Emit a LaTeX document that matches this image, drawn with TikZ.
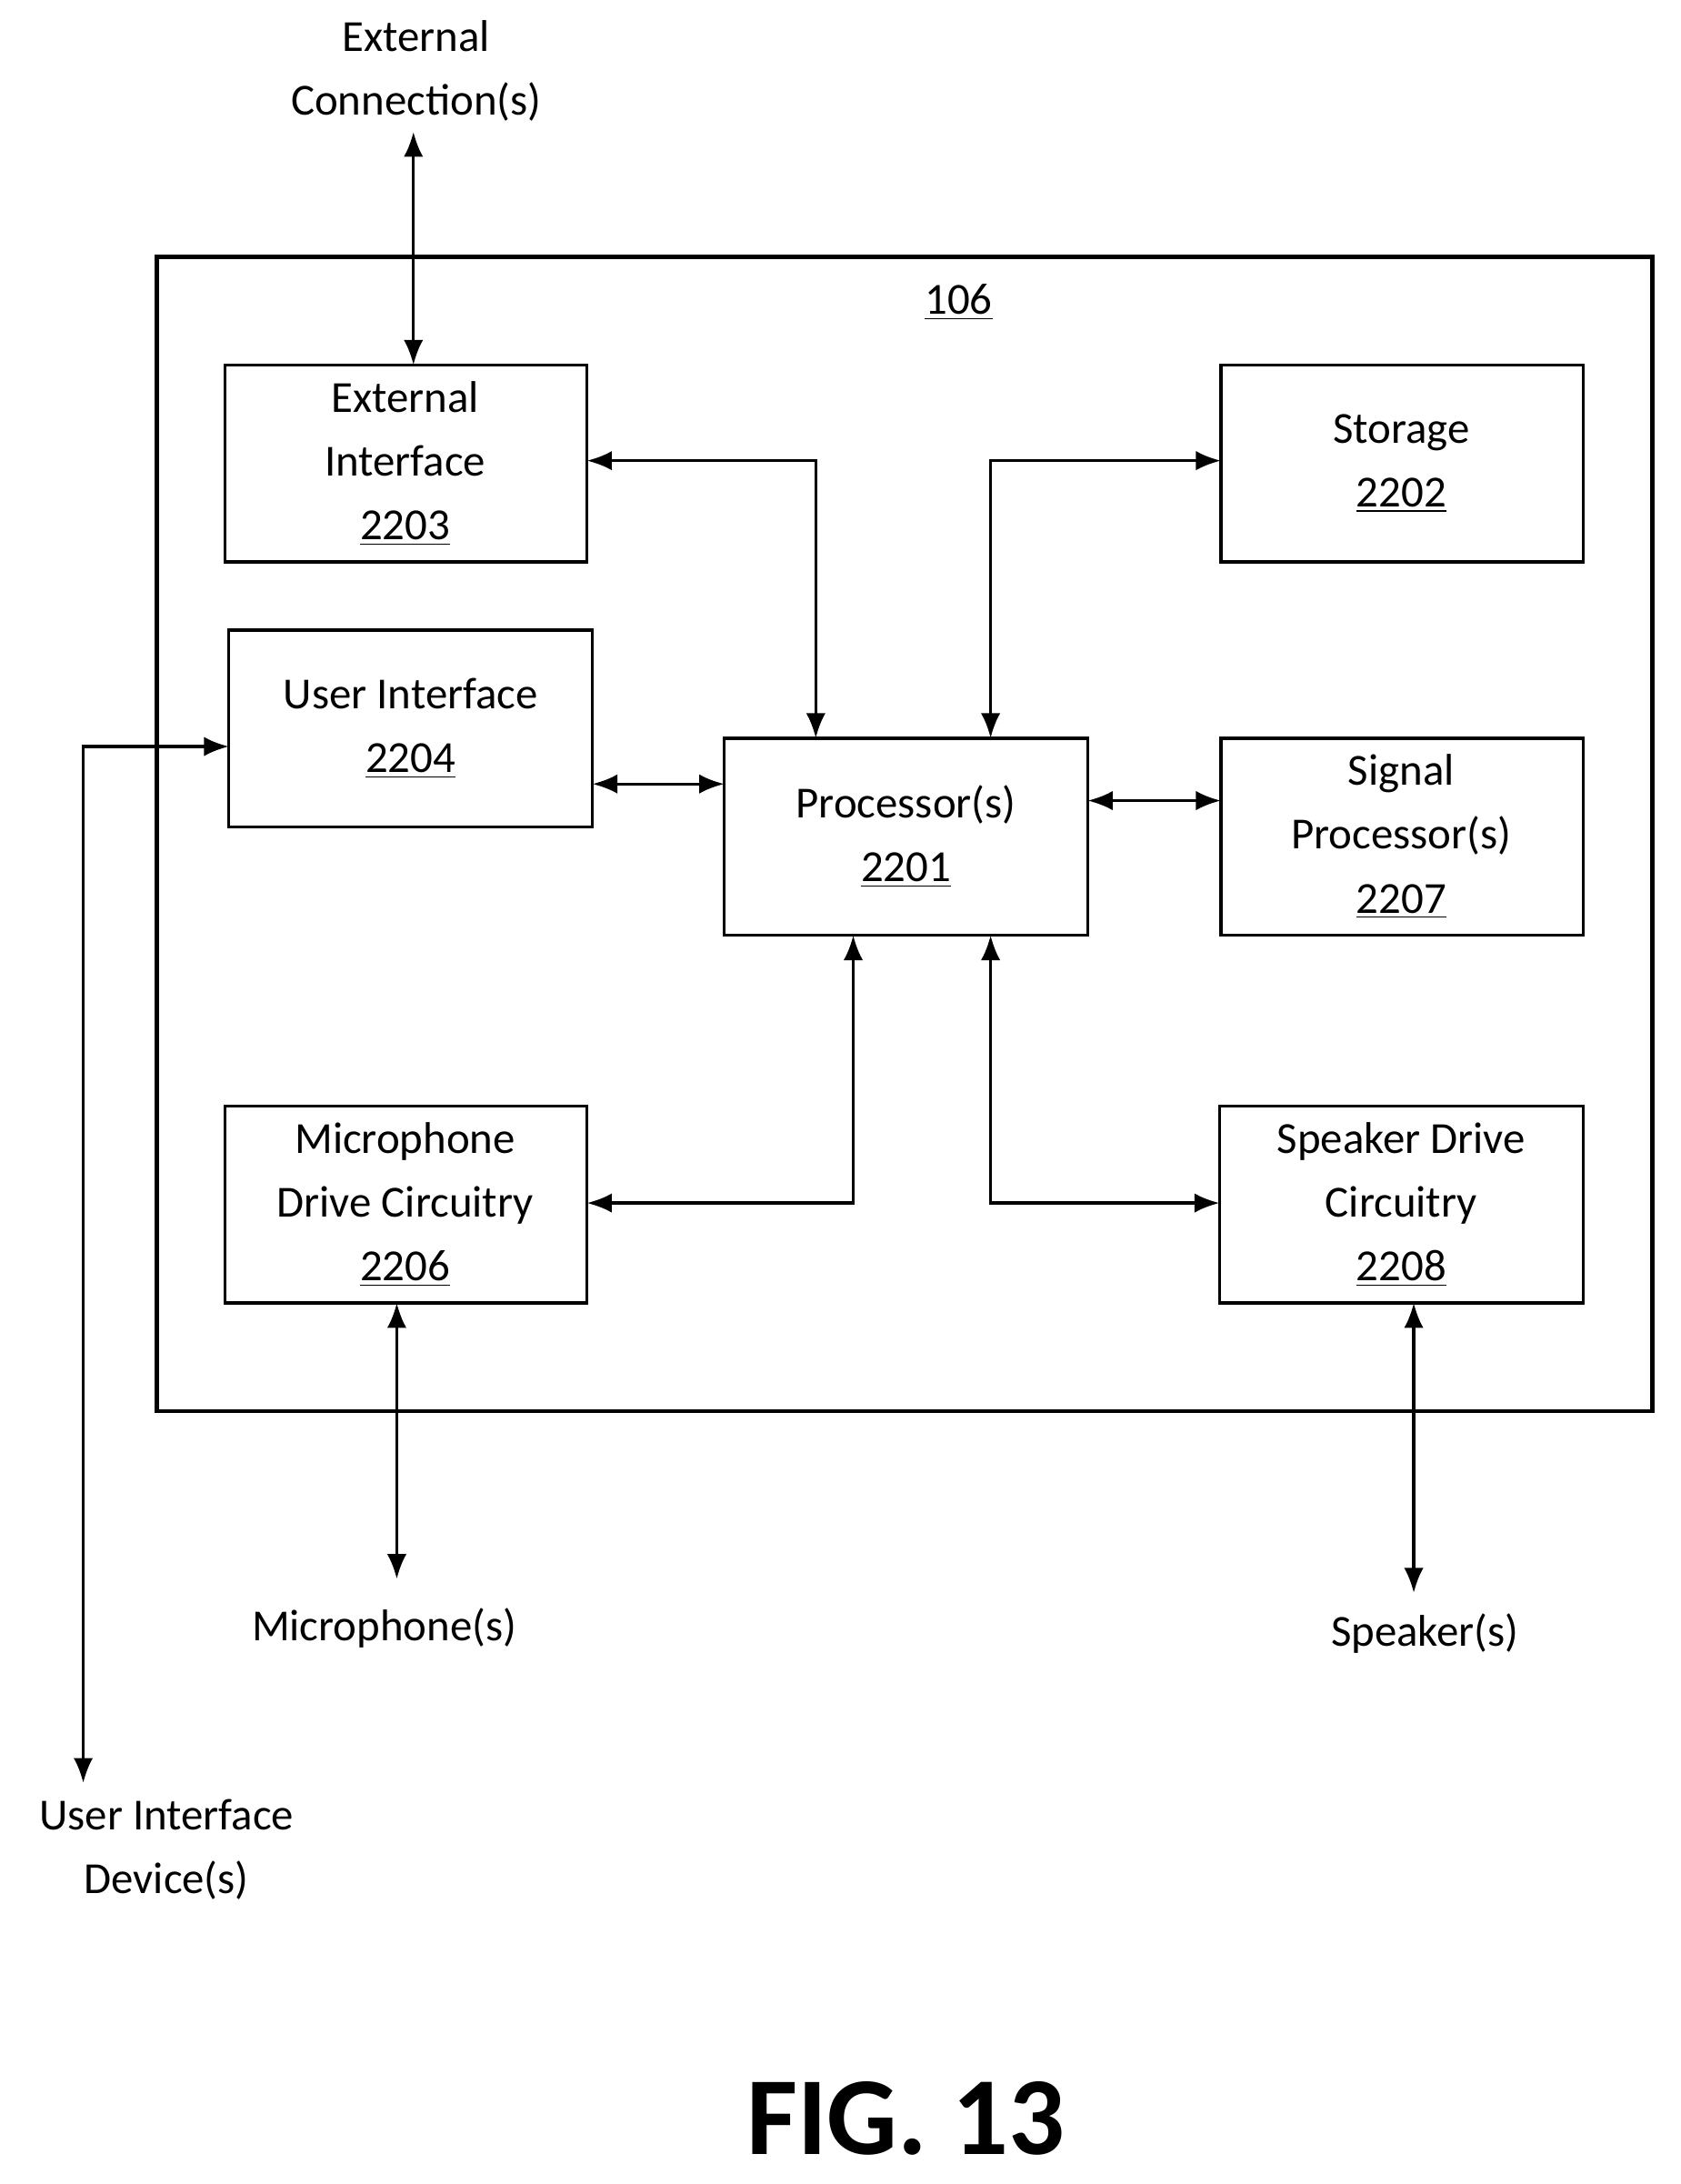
\documentclass[tikz,border=0pt]{standalone}
\usepackage{fontspec}
\setmainfont{Carlito}
\usetikzlibrary{arrows.meta}
\begin{document}
\begin{tikzpicture}[x=0.5pt,y=-0.5pt,
  box/.style={draw,line width=1.1pt,inner sep=0pt},
  lbl/.style={font=\fontsize{16}{23}\selectfont,align=center},
  arr/.style={line width=1.1pt,{Latex[length=9pt,width=7pt]}-{Latex[length=9pt,width=7pt]}}]
\useasboundingbox (0,0) rectangle (1211,1574);
\draw[line width=1.6pt] (113,185) rectangle (1191,1017);
\node[lbl] (t106) at (691,218) {\underline{106}};
\draw[box] (162,263) rectangle (423,405); \node[lbl] (ext) at (292,334) {External\\Interface\\\underline{2203}};
\draw[box] (880,263) rectangle (1141,405); \node[lbl] (sto) at (1010,334) {Storage\\\underline{2202}};
\draw[box] (165,454) rectangle (427,596); \node[lbl] (ui) at (296,525) {User Interface\\\underline{2204}};
\draw[box] (522,532) rectangle (784,674); \node[lbl] (pro) at (653,603) {Processor(s)\\\underline{2201}};
\draw[box] (880,532) rectangle (1141,674); \node[lbl] (sig) at (1010,603) {Signal\\Processor(s)\\\underline{2207}};
\draw[box] (162,797) rectangle (423,939); \node[lbl] (mic) at (292,868) {Microphone\\Drive Circuitry\\\underline{2206}};
\draw[box] (879,797) rectangle (1141,939); \node[lbl] (spk) at (1010,868) {Speaker Drive\\Circuitry\\\underline{2208}};
\node[lbl] (extc) at (300,51) {External\\Connection(s)};
\node[lbl] (uid) at (120,1333) {User Interface\\Device(s)};
\node[lbl] (mics) at (277,1173) {Microphone(s)};
\node[lbl] (spks) at (1027,1177) {Speaker(s)};
\node[font=\bfseries\fontsize{40}{48}\selectfont] (fig) at (653,1527) {FIG. 13};
\coordinate (a1) at (298,95); \coordinate (a2) at (298,263);
\draw[arr] (a1) -- (a2);
\draw[arr] (423,332) -| (588,532);
\draw[arr] (880,332) -| (714,532);
\draw[arr] (427,565) -- (522,565);
\draw[arr] (784,577) -- (880,577);
\draw[arr] (615,674) |- (423,867);
\draw[arr] (714,674) |- (879,867);
\draw[arr] (165,538) -| (60,1285);
\draw[arr] (286,939) -- (286,1138);
\draw[arr] (1019,939) -- (1019,1148);
\end{tikzpicture}
\end{document}
